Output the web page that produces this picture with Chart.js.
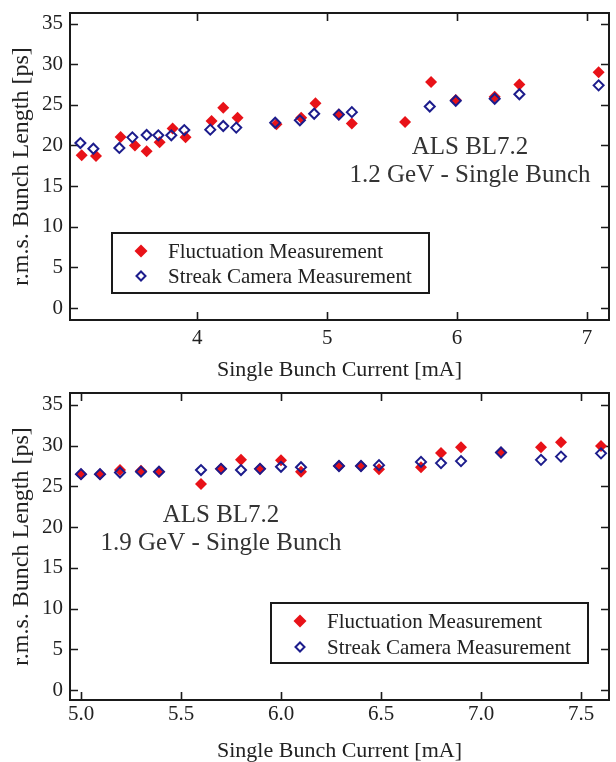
<!DOCTYPE html>
<html>
<head>
<meta charset="utf-8">
<script src="https://cdn.jsdelivr.net/npm/chart.js@4.4.1/dist/chart.umd.min.js"></script>
<style>
  html, body { margin: 0; padding: 0; background: #fff; }
  .wrap { position: absolute; left: 0; width: 616px; }
  #top { top: 0; height: 385px; }
  #bottom { top: 385px; height: 377px; }
</style>
</head>
<body>
<div class="wrap" id="top"><canvas id="chartLow"></canvas></div>
<div class="wrap" id="bottom"><canvas id="chartHigh"></canvas></div>
<script>
// 1.2 GeV - single bunch
const lowFluctX = [3.11, 3.22, 3.41, 3.52, 3.61, 3.71, 3.81, 3.91, 4.11, 4.20, 4.31, 4.61, 4.80, 4.91, 5.09, 5.19, 5.60, 5.80, 5.99, 6.29, 6.48, 7.09];
const lowFluctY = [18.8, 18.7, 21.05, 20.0, 19.3, 20.4, 22.1, 21.0, 23.0, 24.65, 23.4, 22.6, 23.4, 25.2, 23.8, 22.7, 22.9, 27.8, 25.6, 26.0, 27.5, 29.0];
const lowStreakX = [3.10, 3.20, 3.40, 3.50, 3.61, 3.70, 3.80, 3.90, 4.10, 4.20, 4.30, 4.60, 4.79, 4.90, 5.09, 5.19, 5.79, 5.99, 6.29, 6.48, 7.09];
const lowStreakY = [20.3, 19.6, 19.7, 21.0, 21.3, 21.25, 21.25, 21.9, 21.95, 22.4, 22.2, 22.8, 23.1, 23.9, 23.8, 24.1, 24.8, 25.5, 25.75, 26.3, 27.4];

// 1.9 GeV - single bunch
const highFluctX = [5.00, 5.095, 5.195, 5.30, 5.39, 5.60, 5.70, 5.80, 5.895, 6.00, 6.10, 6.29, 6.40, 6.49, 6.70, 6.80, 6.90, 7.10, 7.30, 7.40, 7.60];
const highFluctY = [26.5, 26.5, 27.0, 26.9, 26.8, 25.3, 27.15, 28.25, 27.15, 28.2, 26.8, 27.5, 27.5, 27.1, 27.35, 29.1, 29.8, 29.15, 29.8, 30.4, 29.95];
const highStreakX = [5.00, 5.095, 5.195, 5.30, 5.39, 5.60, 5.70, 5.80, 5.895, 6.00, 6.10, 6.29, 6.40, 6.49, 6.70, 6.80, 6.90, 7.10, 7.30, 7.40, 7.60];
const highStreakY = [26.5, 26.5, 26.7, 26.8, 26.8, 27.0, 27.15, 27.0, 27.15, 27.4, 27.35, 27.5, 27.5, 27.6, 28.0, 27.85, 28.1, 29.15, 28.25, 28.65, 29.05];

// tick labels
const lowXTicks = [4, 5, 6, 7];
const highXTicks = [5.0, 5.5, 6.0, 6.5, 7.0, 7.5];
const yTicks = [0, 5, 10, 15, 20, 25, 30, 35];

const seriesLabels = ["Fluctuation Measurement", "Streak Camera Measurement"];

const RED = "rgb(232,18,24)";
const NAVY = "rgb(28,28,140)";
const INK = "#1a1a1a";
const SERIF = '"Liberation Serif", "Times New Roman", serif';

const pts = (xs, ys) => xs.map((x, i) => ({ x: x, y: ys[i] }));

// tick marks pointing into the plot on all four sides
const inwardTicks = {
  id: "inwardTicks",
  beforeDatasetsDraw(chart) {
    const ctx = chart.ctx;
    const a = chart.chartArea;
    const len = 8;
    ctx.save();
    ctx.strokeStyle = INK;
    ctx.lineWidth = 1.6;
    ctx.beginPath();
    Object.values(chart.scales).forEach(s => {
      s.ticks.forEach(t => {
        const p = Math.round(s.getPixelForValue(t.value)) + 0.5;
        if (s.position === "bottom") { ctx.moveTo(p, a.bottom); ctx.lineTo(p, a.bottom - len); }
        if (s.position === "top") { ctx.moveTo(p, a.top); ctx.lineTo(p, a.top + len); }
        if (s.position === "left") { ctx.moveTo(a.left, p); ctx.lineTo(a.left + len, p); }
        if (s.position === "right") { ctx.moveTo(a.right, p); ctx.lineTo(a.right - len, p); }
      });
    });
    ctx.stroke();
    ctx.restore();
  }
};

// legend drawn inside the plot with a box round it
const boxLegend = {
  id: "boxLegend",
  afterDraw(chart, args, opts) {
    const ctx = chart.ctx;
    ctx.save();
    ctx.lineWidth = 2;
    ctx.strokeStyle = INK;
    ctx.strokeRect(opts.x, opts.y, opts.w, opts.h);
    ctx.font = "21px " + SERIF;
    ctx.textBaseline = "middle";
    chart.data.datasets.forEach((ds, i) => {
      const cy = opts.y + opts.rows[i];
      ctx.fillStyle = ds.backgroundColor;
      ctx.strokeStyle = ds.borderColor;
      Chart.helpers.drawPoint(ctx, {
        pointStyle: "rectRot",
        radius: i === 0 ? 6.5 : 4.5,
        borderWidth: ds.borderWidth,
        rotation: 0
      }, opts.x + 29, cy);
      ctx.fillStyle = "#222";
      ctx.fillText(ds.label, opts.x + 56, cy + 1);
    });
    ctx.restore();
  }
};

const noteText = {
  id: "noteText",
  afterDraw(chart, args, opts) {
    const ctx = chart.ctx;
    ctx.save();
    ctx.font = "25px " + SERIF;
    ctx.fillStyle = "#333";
    ctx.textAlign = "center";
    ctx.textBaseline = "middle";
    opts.lines.forEach((t, i) => ctx.fillText(t, opts.x, opts.y + i * 28));
    ctx.restore();
  }
};

function setTicks(values) {
  return scale => { scale.ticks = values.map(v => ({ value: v })); };
}

function fixSize(prop, size) {
  return s => {
    s[prop] = size;
    s.paddingTop = 0;
    s.paddingBottom = 0;
    s.paddingLeft = 0;
    s.paddingRight = 0;
  };
}

function makeChart(id, cfg) {
  const tickFont = { family: SERIF, size: 21, lineHeight: 1 };
  const titleFont = { family: SERIF, size: 22, lineHeight: 1 };
  const axisGrid = { display: false, drawOnChartArea: false, drawTicks: false };
  const axisBorder = { color: INK, width: 2 };
  return new Chart(document.getElementById(id), {
    type: "scatter",
    data: {
      datasets: [
        {
          label: seriesLabels[0],
          data: pts(cfg.fx, cfg.fy),
          pointStyle: "rectRot",
          pointRadius: 6,
          backgroundColor: RED,
          borderColor: RED,
          borderWidth: 0,
          order: 1,
          clip: false
        },
        {
          label: seriesLabels[1],
          data: pts(cfg.sx, cfg.sy),
          pointStyle: "rectRot",
          pointRadius: 5,
          backgroundColor: "rgba(0,0,0,0)",
          borderColor: NAVY,
          borderWidth: 2,
          order: 0,
          clip: false
        }
      ]
    },
    options: {
      responsive: true,
      maintainAspectRatio: false,
      animation: false,
      layout: { padding: { top: cfg.padTop, right: 7, left: 0, bottom: 0 } },
      plugins: {
        legend: { display: false },
        tooltip: { enabled: false },
        boxLegend: cfg.legend,
        noteText: cfg.note
      },
      scales: {
        x: {
          type: "linear",
          position: "bottom",
          min: cfg.xMin,
          max: cfg.xMax,
          afterBuildTicks: setTicks(cfg.xTicks),
          afterFit: fixSize("height", cfg.xHeight),
          border: axisBorder,
          grid: axisGrid,
          ticks: { font: tickFont, color: "#222", padding: cfg.xTickPad, maxRotation: 0, callback: cfg.xFmt },
          title: { display: true, text: "Single Bunch Current [mA]", font: titleFont, color: "#222", padding: { top: 0, bottom: cfg.xTitlePad } }
        },
        x2: {
          type: "linear",
          position: "top",
          min: cfg.xMin,
          max: cfg.xMax,
          afterBuildTicks: setTicks(cfg.xTicks),
          afterFit: fixSize("height", 0),
          border: axisBorder,
          grid: axisGrid,
          ticks: { display: false }
        },
        y: {
          type: "linear",
          position: "left",
          min: cfg.yMin,
          max: cfg.yMax,
          afterBuildTicks: setTicks(yTicks),
          afterFit: fixSize("width", 70),
          border: axisBorder,
          grid: axisGrid,
          ticks: { font: tickFont, color: "#222", padding: 7 },
          title: { display: true, text: "r.m.s. Bunch Length [ps]", font: { family: SERIF, size: 24, lineHeight: 1 }, color: "#222", padding: { top: 10, bottom: 0 } }
        },
        y2: {
          type: "linear",
          position: "right",
          min: cfg.yMin,
          max: cfg.yMax,
          afterBuildTicks: setTicks(yTicks),
          afterFit: fixSize("width", 0),
          border: axisBorder,
          grid: axisGrid,
          ticks: { display: false }
        }
      }
    },
    plugins: [inwardTicks, boxLegend, noteText]
  });
}

makeChart("chartLow", {
  fx: lowFluctX, fy: lowFluctY, sx: lowStreakX, sy: lowStreakY,
  xMin: 3.02, xMax: 7.17, yMin: -1.47, yMax: 36.3,
  xTicks: lowXTicks, xFmt: v => String(v),
  padTop: 13, xHeight: 65, xTickPad: 8, xTitlePad: 4,
  legend: { x: 112, y: 233, w: 317, h: 60, rows: [18, 43] },
  note: { x: 470, y: 147, lines: ["ALS BL7.2", "1.2 GeV - Single Bunch"] }
});

makeChart("chartHigh", {
  fx: highFluctX, fy: highFluctY, sx: highStreakX, sy: highStreakY,
  xMin: 4.945, xMax: 7.64, yMin: -1.2, yMax: 36.45,
  xTicks: highXTicks, xFmt: v => v.toFixed(1),
  padTop: 8, xHeight: 62, xTickPad: 3.5, xTitlePad: 0,
  legend: { x: 271, y: 218, w: 317, h: 60, rows: [18, 44] },
  note: { x: 221, y: 130, lines: ["ALS BL7.2", "1.9 GeV - Single Bunch"] }
});
</script>
</body>
</html>
